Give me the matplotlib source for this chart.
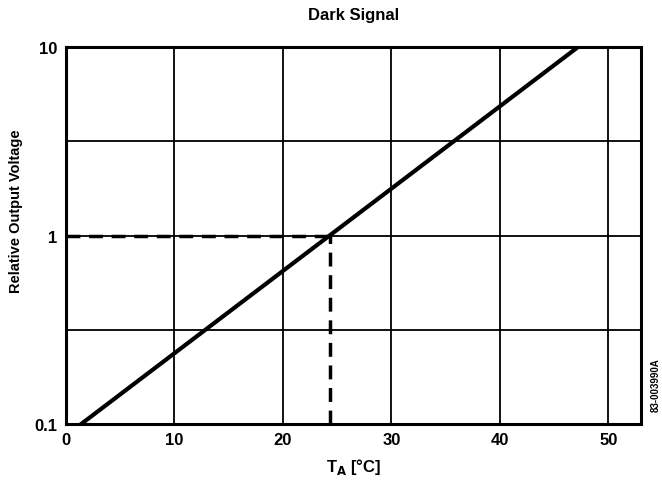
import matplotlib.pyplot as plt
import numpy as np

# dark signal vs temperature (log y)
temp = [1.4, 24.3, 47.2]
rel_v = [0.1, 1.0, 10.0]
ref_t = 24.3
ref_v = 1.0
xticks = [0, 10, 20, 30, 40, 50]
yticks = [0.1, 1, 10]
ygrid = [0.1, 0.316, 1, 3.16, 10]

plt.rcParams['font.family'] = ['Liberation Sans', 'DejaVu Sans']
plt.rcParams['font.weight'] = 'bold'

fig = plt.figure(figsize=(6.62, 4.81), dpi=100)
ax = fig.add_axes([0.0997, 0.1164, 0.8683, 0.7836])
ax.set_yscale('log')
ax.set_xlim(0, 53)
ax.set_ylim(0.1, 10)

for x in xticks:
    ax.axvline(x, color='black', lw=1.3, zorder=1)
for y in ygrid:
    ax.axhline(y, color='black', lw=1.3, zorder=1)

ax.plot(temp, rel_v, color='black', lw=3, zorder=3)
# reference point: dashed lines to the axes
ax.plot([0, ref_t], [ref_v, ref_v], color='black', lw=2.5,
        dashes=(4, 2.5), zorder=3)
ax.plot([ref_t, ref_t], [0.1, ref_v], color='black', lw=2.5,
        dashes=(4, 2.5), zorder=3)

ax.set_xticks(xticks)
ax.set_yticks(yticks)
ax.set_yticklabels(['0.1', '1', '10'])
ax.yaxis.set_minor_locator(plt.NullLocator())
ax.tick_params(length=0, labelsize=12, pad=6)
for lab in ax.get_xticklabels() + ax.get_yticklabels():
    lab.set_fontweight('bold')
for s in ax.spines.values():
    s.set_linewidth(2.2)

ax.set_title('Dark Signal', fontsize=12, fontweight='bold', pad=20)
ax.set_xlabel('T$_\\mathbf{A}$ [°C]', fontsize=12, fontweight='bold', labelpad=6)
fig.text(0.024, 0.56, 'Relative Output Voltage', rotation=90, fontsize=10.5,
         fontweight='bold', ha='center', va='center')
fig.text(0.99, 0.2, '83-003990A', rotation=90, fontsize=7, fontweight='bold',
         ha='center', va='center')

fig.savefig('out.png', dpi=100)
